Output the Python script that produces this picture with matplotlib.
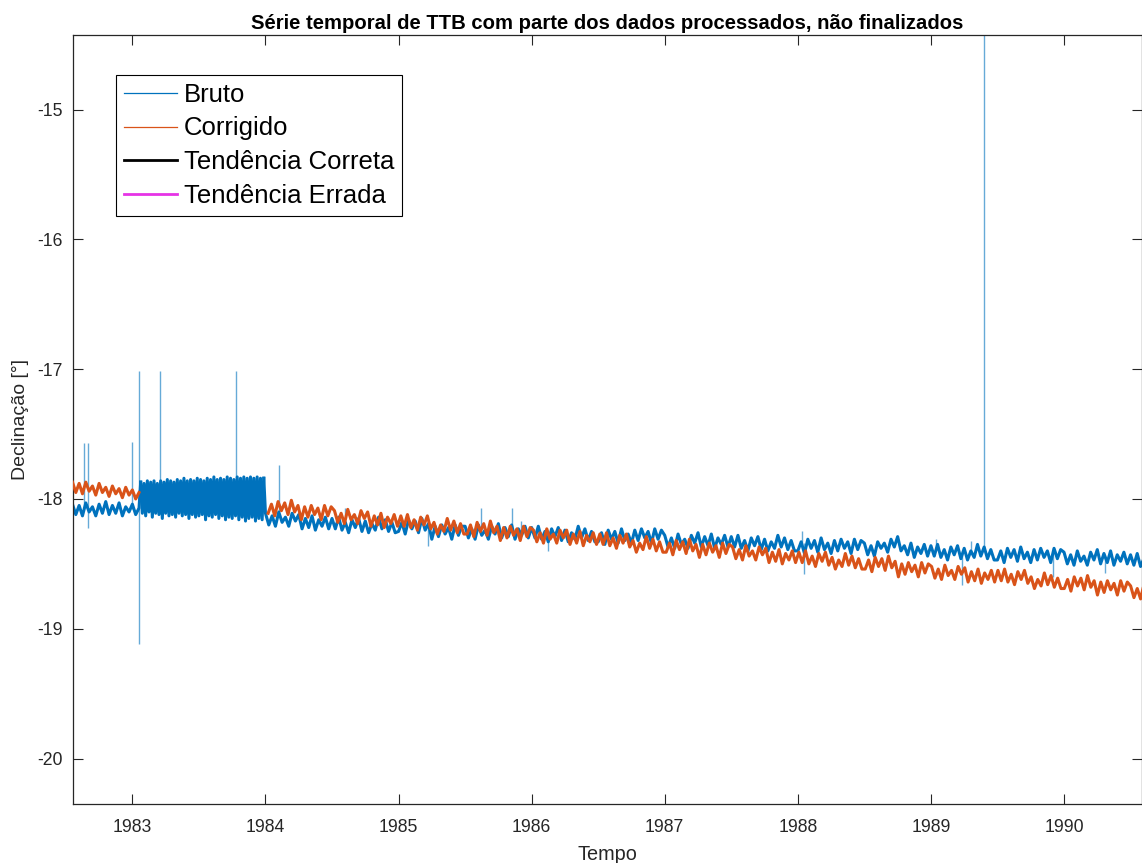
import numpy as np
import matplotlib
matplotlib.use('Agg')
from matplotlib import pyplot as plt

bruto_pre = [-18.04, -18.12, -18.05, -18.13, -18.03, -18.10, -18.06, -18.13, -18.04, -18.11,
             -18.02, -18.12, -18.05, -18.11, -18.03, -18.13, -18.06, -18.10, -18.04, -18.12, -18.07]

# 1983-1984 block where the raw data oscillates wildly
bruto_block = [-17.87, -18.11, -17.88, -18.13, -17.86, -18.10, -17.87, -18.14, -17.86, -18.11,
               -17.88, -18.12, -17.86, -18.15, -17.87, -18.11, -17.85, -18.13, -17.86, -18.12,
               -17.87, -18.14, -17.85, -18.11, -17.86, -18.13, -17.84, -18.12, -17.86, -18.15,
               -17.85, -18.12, -17.86, -18.14, -17.84, -18.13, -17.85, -18.12, -17.86, -18.16,
               -17.84, -18.13, -17.85, -18.14, -17.83, -18.12, -17.85, -18.15, -17.84, -18.13,
               -17.85, -18.16, -17.83, -18.14, -17.84, -18.15, -17.85, -18.13, -17.83, -18.16,
               -17.84, -18.14, -17.83, -18.17, -17.84, -18.15, -17.83, -18.14, -17.84, -18.17,
               -17.83, -18.15, -17.84, -18.16, -17.84]

bruto_post = [
    -18.11, -18.20, -18.13, -18.21, -18.10, -18.18, -18.14, -18.21, -18.11, -18.17,
    -18.12, -18.23, -18.15, -18.22, -18.13, -18.24, -18.16, -18.21, -18.14, -18.23,
    -18.15, -18.23, -18.14, -18.24, -18.18, -18.26, -18.16, -18.22, -18.15, -18.25,
    -18.17, -18.26, -18.19, -18.24, -18.14, -18.23, -18.16, -18.25, -18.18, -18.26,
    -18.25, -18.18, -18.27, -18.16, -18.23, -18.17, -18.26, -18.15, -18.24, -18.19,
    -18.31, -18.21, -18.29, -18.20, -18.27, -18.22, -18.31, -18.20, -18.28, -18.21,
    -18.21, -18.30, -18.23, -18.31, -18.20, -18.28, -18.24, -18.31, -18.21, -18.27,
    -18.19, -18.30, -18.22, -18.29, -18.20, -18.31, -18.23, -18.28, -18.21, -18.30,
    -18.22, -18.30, -18.21, -18.31, -18.25, -18.33, -18.23, -18.29, -18.22, -18.32,
    -18.24, -18.33, -18.26, -18.31, -18.21, -18.30, -18.23, -18.32, -18.25, -18.33,
    -18.33, -18.26, -18.35, -18.24, -18.31, -18.25, -18.34, -18.23, -18.32, -18.27,
    -18.34, -18.24, -18.32, -18.23, -18.30, -18.25, -18.34, -18.23, -18.31, -18.24,
    -18.28, -18.37, -18.30, -18.38, -18.27, -18.35, -18.31, -18.38, -18.28, -18.34,
    -18.26, -18.37, -18.29, -18.36, -18.27, -18.38, -18.30, -18.35, -18.28, -18.37,
    -18.29, -18.37, -18.28, -18.38, -18.32, -18.40, -18.30, -18.36, -18.29, -18.39,
    -18.31, -18.40, -18.33, -18.38, -18.28, -18.37, -18.30, -18.39, -18.32, -18.40,
    -18.40, -18.33, -18.42, -18.31, -18.38, -18.32, -18.41, -18.30, -18.39, -18.34,
    -18.42, -18.32, -18.40, -18.31, -18.38, -18.33, -18.42, -18.31, -18.39, -18.32,
    -18.34, -18.43, -18.36, -18.44, -18.33, -18.38, -18.34, -18.41, -18.31, -18.37,
    -18.29, -18.40, -18.36, -18.43, -18.34, -18.45, -18.37, -18.42, -18.35, -18.44,
    -18.36, -18.44, -18.35, -18.45, -18.39, -18.47, -18.37, -18.43, -18.36, -18.46,
    -18.38, -18.47, -18.40, -18.45, -18.35, -18.44, -18.37, -18.46, -18.39, -18.47,
    -18.47, -18.40, -18.49, -18.38, -18.45, -18.39, -18.48, -18.37, -18.46, -18.41,
    -18.49, -18.39, -18.47, -18.38, -18.45, -18.40, -18.49, -18.38, -18.46, -18.39,
    -18.41, -18.50, -18.43, -18.51, -18.40, -18.48, -18.44, -18.51, -18.41, -18.47,
    -18.39, -18.50, -18.42, -18.49, -18.40, -18.51, -18.43, -18.48, -18.41, -18.50,
    -18.43, -18.51, -18.42, -18.52, -18.46, -18.54, -18.44, -18.50, -18.43]

# isolated spikes of the raw series: time, top, bottom
spike_t = [1982.64, 1982.67, 1983.00, 1983.05, 1983.21, 1983.78, 1984.10, 1984.60, 1985.22,
           1985.62, 1985.85, 1985.92, 1986.12, 1988.03, 1988.05, 1989.04, 1989.23, 1989.30,
           1989.40, 1989.92, 1990.31]
spike_top = [-17.57, -17.57, -17.56, -17.01, -17.01, -17.01, -17.74, -18.07, -18.20,
             -18.07, -18.07, -18.17, -18.25, -18.25, -18.34, -18.31, -18.40, -18.32,
             -14.00, -18.42, -18.44]
spike_bot = [-18.07, -18.22, -18.08, -19.12, -17.90, -17.90, -18.10, -18.18, -18.36,
             -18.24, -18.24, -18.30, -18.40, -18.36, -18.58, -18.40, -18.66, -18.42,
             -18.40, -18.60, -18.57]

corrigido_pre = [-17.87, -17.95, -17.88, -17.96, -17.87, -17.94, -17.90, -17.97, -17.88, -17.95,
                 -17.91, -17.98, -17.90, -17.96, -17.92, -17.99, -17.91, -17.97, -17.93, -18.00,
                 -17.95]

corrigido_post = [
    -18.11, -18.04, -18.13, -18.02, -18.09, -18.03, -18.12, -18.01, -18.10, -18.05,
    -18.16, -18.06, -18.14, -18.05, -18.12, -18.07, -18.16, -18.05, -18.13, -18.06,
    -18.09, -18.18, -18.11, -18.19, -18.08, -18.16, -18.12, -18.19, -18.09, -18.15,
    -18.10, -18.21, -18.13, -18.20, -18.11, -18.22, -18.14, -18.19, -18.12, -18.21,
    -18.13, -18.21, -18.12, -18.22, -18.16, -18.24, -18.14, -18.20, -18.13, -18.23,
    -18.18, -18.27, -18.20, -18.25, -18.15, -18.24, -18.17, -18.26, -18.19, -18.27,
    -18.27, -18.20, -18.29, -18.18, -18.25, -18.19, -18.28, -18.17, -18.26, -18.21,
    -18.32, -18.22, -18.30, -18.21, -18.28, -18.23, -18.32, -18.21, -18.29, -18.22,
    -18.24, -18.33, -18.26, -18.34, -18.23, -18.31, -18.27, -18.34, -18.24, -18.30,
    -18.24, -18.35, -18.27, -18.34, -18.25, -18.36, -18.28, -18.33, -18.26, -18.35,
    -18.27, -18.35, -18.26, -18.36, -18.30, -18.38, -18.28, -18.34, -18.27, -18.37,
    -18.32, -18.41, -18.34, -18.39, -18.29, -18.38, -18.31, -18.40, -18.33, -18.41,
    -18.41, -18.34, -18.43, -18.32, -18.39, -18.33, -18.42, -18.31, -18.40, -18.35,
    -18.45, -18.35, -18.43, -18.34, -18.41, -18.36, -18.45, -18.34, -18.42, -18.35,
    -18.37, -18.46, -18.39, -18.47, -18.36, -18.44, -18.40, -18.47, -18.37, -18.43,
    -18.38, -18.49, -18.41, -18.48, -18.39, -18.50, -18.42, -18.47, -18.40, -18.49,
    -18.41, -18.49, -18.40, -18.50, -18.44, -18.52, -18.42, -18.48, -18.41, -18.51,
    -18.45, -18.54, -18.47, -18.52, -18.42, -18.51, -18.44, -18.53, -18.46, -18.54,
    -18.54, -18.47, -18.56, -18.45, -18.52, -18.46, -18.55, -18.44, -18.53, -18.48,
    -18.60, -18.50, -18.58, -18.49, -18.56, -18.51, -18.60, -18.49, -18.57, -18.50,
    -18.52, -18.61, -18.54, -18.62, -18.51, -18.59, -18.55, -18.62, -18.52, -18.58,
    -18.53, -18.64, -18.56, -18.63, -18.54, -18.65, -18.57, -18.62, -18.55, -18.64,
    -18.55, -18.63, -18.54, -18.64, -18.58, -18.66, -18.56, -18.62, -18.55, -18.65,
    -18.60, -18.69, -18.62, -18.67, -18.57, -18.66, -18.59, -18.68, -18.61, -18.69,
    -18.69, -18.62, -18.71, -18.60, -18.67, -18.61, -18.70, -18.59, -18.68, -18.63,
    -18.74, -18.64, -18.72, -18.63, -18.70, -18.65, -18.74, -18.63, -18.71, -18.64,
    -18.67, -18.76, -18.69, -18.77, -18.66, -18.74, -18.70, -18.77, -18.67]

year_ticks = [1983, 1984, 1985, 1986, 1987, 1988, 1989, 1990]
decl_ticks = [-20, -19, -18, -17, -16, -15]

BLUE = '#0072BD'
ORANGE = '#D95319'
AXCOL = '#262626'


def build_series():
    t_pre = np.linspace(1982.55, 1983.05, len(bruto_pre))
    t_block = np.linspace(1983.0625, 1983.9875, len(bruto_block))
    t_post = np.linspace(1984.0, 1990.70, len(bruto_post))

    # corrected series has no data during the 1983 block
    t_corr = np.concatenate([
        np.linspace(1982.55, 1983.05, len(corrigido_pre)), [np.nan],
        np.linspace(1984.02, 1990.70, len(corrigido_post))])
    y_corr = np.concatenate([corrigido_pre, [np.nan], corrigido_post])
    return t_pre, t_block, t_post, t_corr, y_corr


def main():
    plt.rcParams['font.family'] = ['Liberation Sans', 'DejaVu Sans']
    plt.rcParams['axes.unicode_minus'] = False

    fig = plt.figure(figsize=(11.42, 8.63), dpi=100)
    ax = fig.add_axes([0.0637, 0.0684, 0.9363, 0.8910])

    t_pre, t_block, t_post, t_corr, y_corr = build_series()

    # raw series, drawn in pieces; thick lines so the dense noise reads as a band
    ax.plot(np.concatenate([t_pre, [t_block[0]]]), bruto_pre + [bruto_block[0]],
            color=BLUE, lw=2.2, zorder=2)
    ax.plot(t_block, bruto_block, color=BLUE, lw=2.2, zorder=2)
    ax.plot(np.concatenate([[t_block[-1]], t_post]), [bruto_block[-1]] + bruto_post,
            color=BLUE, lw=2.2, zorder=2)
    ax.vlines(spike_t, spike_bot, spike_top, colors=BLUE, lw=1.0, alpha=0.6, zorder=2)
    ax.plot(t_corr, y_corr, color=ORANGE, lw=2.2, zorder=3)

    # legend entries (trend lines are not visible in the window)
    ax.plot([], [], color=BLUE, lw=0.9, label='Bruto')
    ax.plot([], [], color=ORANGE, lw=0.9, label='Corrigido')
    ax.plot([], [], color='black', lw=2.0, label='Tendência Correta')
    ax.plot([], [], color='#e633e6', lw=2.0, label='Tendência Errada')

    ax.set_xlim(1982.552, 1990.586)
    ax.set_ylim(-20.35, -14.425)
    ax.set_xticks(year_ticks)
    ax.set_yticks(decl_ticks)

    ax.tick_params(direction='in', top=True, right=True, length=7, width=0.8,
                   color=AXCOL, labelcolor=AXCOL, labelsize=12.7)
    ax.tick_params(axis='x', pad=10.5)
    ax.tick_params(axis='y', pad=7.5)
    for s in ax.spines.values():
        s.set_color(AXCOL)
        s.set_linewidth(0.9)

    ax.set_title('Série temporal de TTB com parte dos dados processados, não finalizados',
                 fontsize=14.6, fontweight='bold', pad=4)
    ax.set_xlabel('Tempo', fontsize=14.3, color=AXCOL, labelpad=6.5)
    ax.set_ylabel('Declinação [°]', fontsize=14, color=AXCOL, labelpad=5.8)

    leg = ax.legend(loc='upper left', bbox_to_anchor=(0.0409, 0.948), borderaxespad=0,
                    fontsize=18.5, handlelength=2.06, handletextpad=0.25, labelspacing=0.38,
                    borderpad=0.3, fancybox=False, framealpha=1, edgecolor='black')
    leg.get_frame().set_linewidth(0.8)

    fig.savefig('out.png', dpi=100)


if __name__ == '__main__':
    main()
